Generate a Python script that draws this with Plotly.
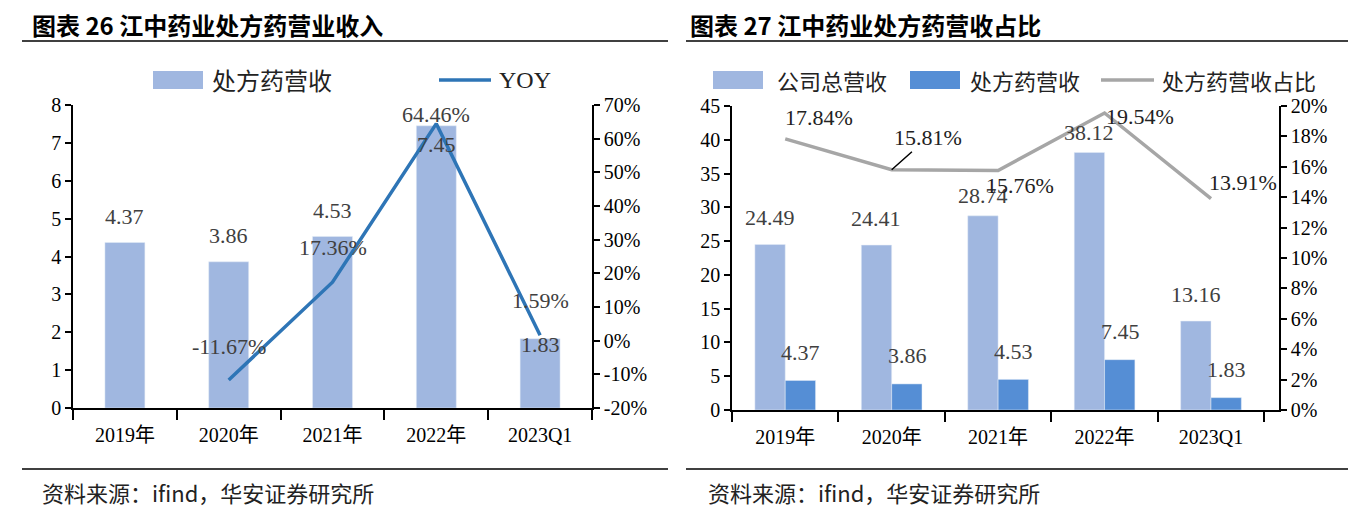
import plotly.graph_objects as go

# ---------------- data ----------------
categories = ["2019年", "2020年", "2021年", "2022年", "2023Q1"]
rx_revenue = [4.37, 3.86, 4.53, 7.45, 1.83]          # 处方药营收 (亿元)
rx_yoy = [None, -11.67, 17.36, 64.46, 1.59]            # YOY (%)
total_revenue = [24.49, 24.41, 28.74, 38.12, 13.16]    # 公司总营收
rx_share = [17.84, 15.81, 15.76, 19.54, 13.91]         # 处方药营收占比 (%)

yoy_ticks = [-20, -10, 0, 10, 20, 30, 40, 50, 60, 70]
yoy_ticklabels = ["-20%", "-10%", "0%", "10%", "20%", "30%", "40%", "50%", "60%", "70%"]
share_ticks = [0, 2, 4, 6, 8, 10, 12, 14, 16, 18, 20]
share_ticklabels = ["0%", "2%", "4%", "6%", "8%", "10%", "12%", "14%", "16%", "18%", "20%"]

left_title = "图表 26 江中药业处方药营业收入"
right_title = "图表 27 江中药业处方药营收占比"
source_text = "资料来源：ifind，华安证券研究所"

# ---------------- styles ----------------
W, H = 1360, 514
OFF = 8  # page body margin
LIGHT = "#A0B7E0"
DARK = "#558ED5"
BLUE_LINE = "#2E75B6"
GRAY_LINE = "#A6A6A6"
LBL = "#404040"
SERIF = "Liberation Serif, Noto Sans CJK SC"
CJK = "Noto Sans CJK SC, Liberation Sans"


def px(x):
    return (x - OFF) / W


def py(y):
    return 1 - (y - OFF) / H


fig = go.Figure()

# left chart
fig.add_trace(go.Bar(x=categories, y=rx_revenue, name="处方药营收", marker_color=LIGHT,
                     width=0.385, offset=-0.1925, xaxis="x", yaxis="y", showlegend=False))
fig.add_trace(go.Scatter(x=categories, y=rx_yoy, name="YOY", mode="lines",
                         line=dict(color=BLUE_LINE, width=3.5), xaxis="x", yaxis="y2",
                         showlegend=False))

# right chart
fig.add_trace(go.Bar(x=categories, y=total_revenue, name="公司总营收", marker_color=LIGHT,
                     width=0.285, offset=-0.285, xaxis="x2", yaxis="y3", showlegend=False))
fig.add_trace(go.Bar(x=categories, y=rx_revenue, name="处方药营收", marker_color=DARK,
                     width=0.285, offset=0.0, xaxis="x2", yaxis="y3", showlegend=False))
fig.add_trace(go.Scatter(x=categories, y=rx_share, name="处方药营收占比", mode="lines",
                         line=dict(color=GRAY_LINE, width=3.5), xaxis="x2", yaxis="y4",
                         showlegend=False))

ann = []
lab_font = dict(family=SERIF, size=22, color=LBL)

# left labels
bar_shift_left = [26, 26, 26, -19, -6]
for c, v, s in zip(categories, rx_revenue, bar_shift_left):
    ann.append(dict(x=c, y=v, xref="x", yref="y", text=f"{v:.2f}", showarrow=False,
                    yshift=s, font=lab_font))
yoy_shift = [0, 33, 35, 9, 35]
for c, v, s in zip(categories, rx_yoy, yoy_shift):
    if v is None:
        continue
    ann.append(dict(x=c, y=v, xref="x", yref="y2", text=f"{v:.2f}%", showarrow=False,
                    yshift=s, font=lab_font))

# right labels
tot_shift = [27, 27, 20, 20, 27]
for c, v, s in zip(categories, total_revenue, tot_shift):
    ann.append(dict(x=c, y=v, xref="x2", yref="y3", text=f"{v:.2f}", showarrow=False,
                    xshift=-15.5, yshift=s, font=lab_font))
for c, v in zip(categories, rx_revenue):
    ann.append(dict(x=c, y=v, xref="x2", yref="y3", text=f"{v:.2f}", showarrow=False,
                    xshift=15.5, yshift=28, font=lab_font))
share_shift = [(34, 21), None, (22, -15), (35, -4), (32, 16)]
for c, v, s in zip(categories, rx_share, share_shift):
    if s is None:
        ann.append(dict(x=c, y=v, xref="x2", yref="y4", text=f"{v:.2f}%", showarrow=True,
                        arrowhead=0, arrowwidth=1.5, arrowcolor="black", ax=36, ay=-32,
                        font=dict(family=SERIF, size=22, color="#222222")))
    else:
        ann.append(dict(x=c, y=v, xref="x2", yref="y4", text=f"{v:.2f}%", showarrow=False,
                        xshift=s[0], yshift=s[1], font=dict(family=SERIF, size=22, color="#222222")))

# titles & source
for x0, t in [(30, left_title), (688, right_title)]:
    ann.append(dict(x=px(x0), y=py(24), xref="paper", yref="paper", text=f"<b>{t}</b>",
                    showarrow=False, xanchor="left", yanchor="middle",
                    font=dict(family=CJK, size=24, color="black")))
for x0 in [40, 706]:
    ann.append(dict(x=px(x0), y=py(492), xref="paper", yref="paper", text=source_text,
                    showarrow=False, xanchor="left", yanchor="middle",
                    font=dict(family=CJK, size=22, color="#222222")))

shapes = []
# rules
for x0, x1 in [(22, 668), (686, 1348)]:
    shapes.append(dict(type="line", xref="paper", yref="paper", x0=px(x0), x1=px(x1),
                       y0=py(41), y1=py(41), line=dict(color="black", width=1.5)))
    shapes.append(dict(type="line", xref="paper", yref="paper", x0=px(x0), x1=px(x1),
                       y0=py(469), y1=py(469), line=dict(color="black", width=1.5)))

# custom legends
leg_y = 80


def legend_rect(x0, x1, color):
    shapes.append(dict(type="rect", xref="paper", yref="paper", x0=px(x0), x1=px(x1),
                       y0=py(leg_y + 9), y1=py(leg_y - 9), fillcolor=color, line=dict(width=0)))


def legend_line(x0, x1, color):
    shapes.append(dict(type="line", xref="paper", yref="paper", x0=px(x0), x1=px(x1),
                       y0=py(leg_y), y1=py(leg_y), line=dict(color=color, width=3.5)))


def legend_text(x0, t, size, fam=CJK):
    ann.append(dict(x=px(x0), y=py(leg_y), xref="paper", yref="paper", text=t,
                    showarrow=False, xanchor="left", yanchor="middle",
                    font=dict(family=fam, size=size, color="#222222")))


legend_rect(153, 203, LIGHT)
legend_text(210, "处方药营收", 24)
legend_line(439, 491, BLUE_LINE)
legend_text(497, "YOY", 24, SERIF)

legend_rect(713, 763, LIGHT)
legend_text(775, "公司总营收", 22)
legend_rect(910, 960, DARK)
legend_text(968, "处方药营收", 22)
legend_line(1101, 1154, GRAY_LINE)
legend_text(1160, "处方药营收占比", 22)

tick_font = dict(family=SERIF, size=20, color="black")
xcommon = dict(type="category", showline=True, linecolor="black", linewidth=1.5,
               ticks="outside", tickson="boundaries", ticklen=10, tickcolor="black",
               tickwidth=1.5, showgrid=False, zeroline=False, tickfont=tick_font,
               ticklabelstandoff=8, fixedrange=True, automargin=False)
ycommon = dict(showline=True, linecolor="black", linewidth=1.5, ticks="outside",
               ticklen=6, tickcolor="black", tickwidth=1.5, showgrid=False, zeroline=False,
               tickfont=tick_font, fixedrange=True, automargin=False)

fig.update_layout(
    width=W, height=H,
    margin=dict(l=0, r=0, t=0, b=0, pad=0, autoexpand=False),
    paper_bgcolor="white", plot_bgcolor="white",
    showlegend=False,
    barmode="overlay",
    xaxis=dict(domain=[px(73), px(592)], anchor="y", **xcommon),
    yaxis=dict(domain=[py(408), py(105)], range=[0, 8], dtick=1, anchor="x", **ycommon),
    yaxis2=dict(overlaying="y", side="right", anchor="x", range=[-20, 70],
                tickmode="array", tickvals=yoy_ticks, ticktext=yoy_ticklabels, **ycommon),
    xaxis2=dict(domain=[px(732), px(1279)], anchor="y3", **xcommon),
    yaxis3=dict(domain=[py(410), py(106)], range=[0, 45], dtick=5, anchor="x2", **ycommon),
    yaxis4=dict(overlaying="y3", side="right", anchor="x2", range=[0, 20],
                tickmode="array", tickvals=share_ticks, ticktext=share_ticklabels, **ycommon),
    annotations=ann,
    shapes=shapes,
)

fig.write_html("out.html")
